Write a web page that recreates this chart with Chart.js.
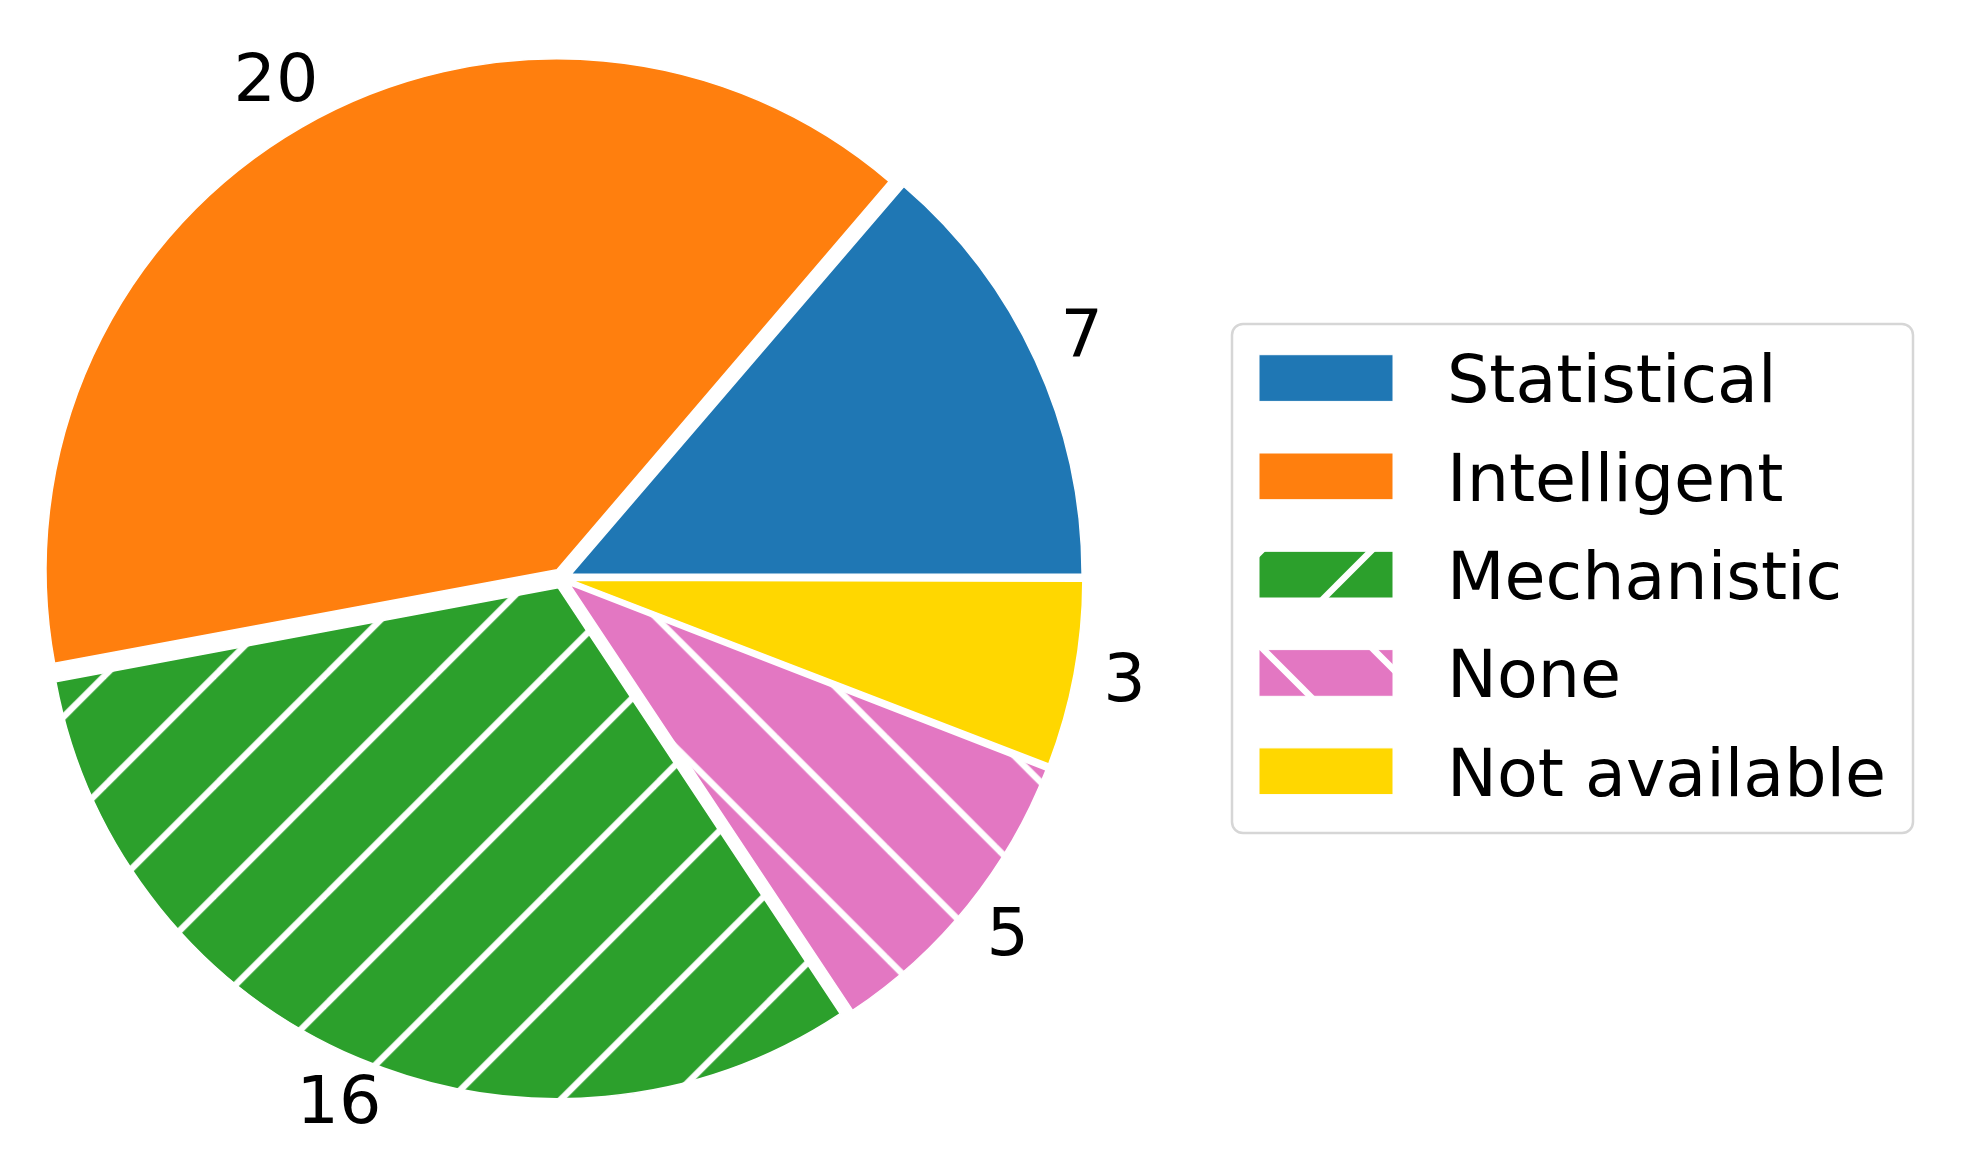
<!DOCTYPE html>
<html>
<head>
<meta charset="utf-8">
<script src="https://cdn.jsdelivr.net/npm/chart.js@4.4.0/dist/chart.umd.min.js"></script>
<style>
  html, body { margin: 0; padding: 0; background: #fff; }
  #wrap { width: 1968px; height: 1176px; }
</style>
</head>
<body>
<div id="wrap"><canvas id="pieChart" width="1968" height="1176"></canvas></div>
<script>
// data, in legend order (matplotlib draws it counter-clockwise from 3 o'clock)
const categories = ['Statistical', 'Intelligent', 'Mechanistic', 'None', 'Not available'];
const counts = [7, 20, 16, 5, 3];
const colors = ['#1f77b4', '#ff7f0e', '#2ca02c', '#e377c2', '#ffd700'];
const hatches = ['', '', '/', '\\', ''];

const fontPx = 66.7;
const fontFamily = '"DejaVu Sans", "Liberation Sans", sans-serif';
const pieRadius = 511;
const explodePx = 10;
const labelDistance = 1.1;

// white hatch lines on a coloured tile
function makeFill(color, hatch, phase) {
  if (!hatch) return color;
  const S = 110;
  const tile = document.createElement('canvas');
  tile.width = S; tile.height = S;
  const g = tile.getContext('2d');
  g.fillStyle = color;
  g.fillRect(0, 0, S, S);
  g.strokeStyle = '#ffffff';
  g.lineWidth = 6.5;
  for (let m = -2; m <= 2; m++) {
    const k = phase + m * S;
    g.beginPath();
    if (hatch === '/') {        // x + y = k
      g.moveTo(-S, k + S);
      g.lineTo(2 * S, k - 2 * S);
    } else {                    // y - x = k
      g.moveTo(-S, k - S);
      g.lineTo(2 * S, k + 2 * S);
    }
    g.stroke();
  }
  return g.createPattern(tile, 'repeat');
}

const phases = [0, 0, 5, 73, 0];
const legendPhases = [0, 0, 52, 46, 0];
const fills = colors.map((c, i) => makeFill(c, hatches[i], phases[i]));
const legendFills = colors.map((c, i) => makeFill(c, hatches[i], legendPhases[i]));

// Chart.js goes clockwise, so feed the slices reversed
const pieLabels = categories.slice().reverse();
const pieCounts = counts.slice().reverse();
const pieFills = fills.slice().reverse();

// keep every exploded slice at the same radius
const evenRadius = {
  id: 'evenRadius',
  afterDatasetsUpdate(chart) {
    chart.getDatasetMeta(0).data.forEach(arc => {
      const off = (arc.options.offset || 0) / 4;
      const fix = 1 - Math.sin(Math.min(Math.PI, arc.circumference));
      arc.outerRadius = pieRadius - off * fix;
    });
  }
};

// count labels outside each slice
const valueLabels = {
  id: 'valueLabels',
  afterDatasetsDraw(chart) {
    const c = chart.ctx;
    const meta = chart.getDatasetMeta(0);
    const vals = chart.data.datasets[0].data;
    c.save();
    c.font = fontPx + 'px ' + fontFamily;
    c.fillStyle = '#000';
    c.textAlign = 'center';
    c.textBaseline = 'alphabetic';
    meta.data.forEach((arc, i) => {
      const mid = (arc.startAngle + arc.endAngle) / 2;
      const r = labelDistance * pieRadius + explodePx;
      c.fillText(String(vals[i]), arc.x + Math.cos(mid) * r, arc.y + Math.sin(mid) * r + 0.262 * fontPx);
    });
    c.restore();
  }
};

// framed legend on the right
const boxLegend = {
  id: 'boxLegend',
  afterDraw(chart) {
    const c = chart.ctx;
    c.save();
    c.beginPath();
    c.roundRect(1232, 324, 681, 509, 11);
    c.fillStyle = 'rgba(255,255,255,0.8)';
    c.fill();
    c.lineWidth = 2.5;
    c.strokeStyle = '#d6d6d6';
    c.stroke();

    c.font = fontPx + 'px ' + fontFamily;
    c.textAlign = 'left';
    c.textBaseline = 'alphabetic';
    categories.forEach((name, i) => {
      const top = 354.7 + 98.3 * i;
      c.fillStyle = legendFills[i];
      c.fillRect(1259, top, 134, 46.7);
      c.lineWidth = 1;
      c.strokeStyle = '#ffffff';
      c.strokeRect(1259, top, 134, 46.7);
      c.fillStyle = '#000';
      c.fillText(name, 1447, top + 23.35 + 0.365 * fontPx);
    });
    c.restore();
  }
};

const ctx = document.getElementById('pieChart').getContext('2d');
new Chart(ctx, {
  type: 'pie',
  data: {
    labels: pieLabels,
    datasets: [{
      data: pieCounts,
      backgroundColor: pieFills,
      borderColor: '#ffffff',
      borderWidth: 1.5,
      offset: explodePx * 4
    }]
  },
  options: {
    responsive: false,
    animation: false,
    devicePixelRatio: 1,
    rotation: 90,
    radius: pieRadius,
    layout: { padding: { left: 0, top: 0, right: 844, bottom: 19 } },
    plugins: {
      legend: { display: false },
      tooltip: { enabled: false }
    }
  },
  plugins: [evenRadius, valueLabels, boxLegend]
});
</script>
</body>
</html>
